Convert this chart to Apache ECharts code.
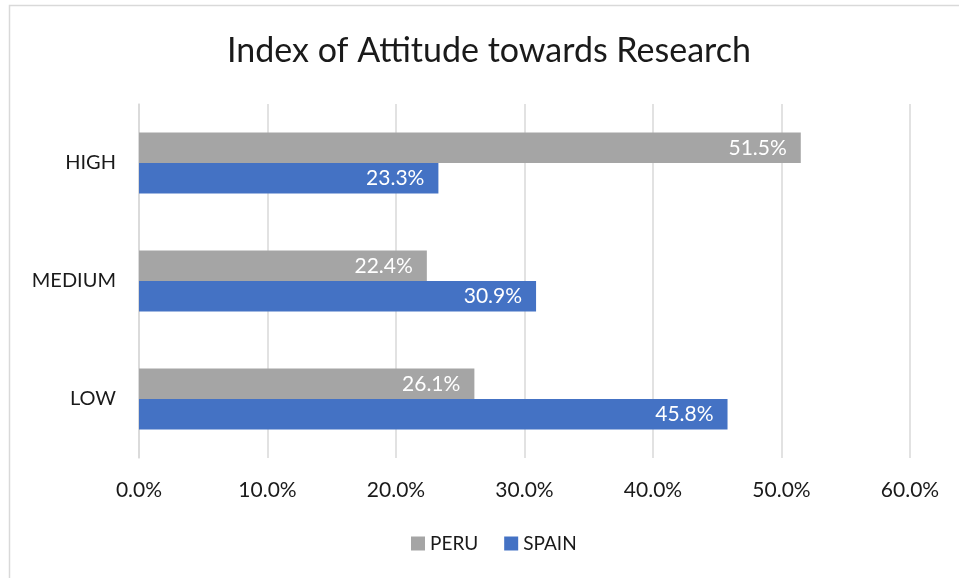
<!DOCTYPE html>
<html>
<head>
<meta charset="utf-8">
<script src="https://cdn.jsdelivr.net/npm/echarts@6/dist/echarts.min.js"></script>
<style>
  html, body { margin: 0; padding: 0; background: #fff; }
  #chart { width: 959px; height: 578px; }
</style>
</head>
<body>
<div id="chart"></div>
<script>
// categories bottom to top (ECharts draws first category at the bottom)
const categories = ['LOW', 'MEDIUM', 'HIGH'];
const peru = [26.1, 22.4, 51.5];
const spain = [45.8, 30.9, 23.3];
const xTicks = [0, 10, 20, 30, 40, 50, 60];

const chart = echarts.init(document.getElementById('chart'));

const labelStyle = {
  show: true,
  position: 'insideRight',
  distance: 14,
  color: '#fff',
  fontSize: 21,
  fontFamily: 'Lato',
  formatter: p => p.value.toFixed(1) + '%'
};

const option = {
  animation: false,
  textStyle: { fontFamily: 'Lato' },
  graphic: [{
    type: 'rect',
    shape: { x: 9.5, y: 5.5, width: 960, height: 580 },
    style: { fill: 'none', stroke: '#d9d9d9', lineWidth: 1.5 },
    silent: true
  }],
  title: {
    text: 'Index of Attitude towards Research',
    left: 222,
    top: 29,
    textStyle: { fontSize: 34, fontWeight: 'normal', color: '#1a1a1a', fontFamily: 'Lato' }
  },
  legend: {
    bottom: 20,
    left: 406,
    itemWidth: 14,
    itemHeight: 14,
    itemGap: 26,
    icon: 'rect',
    textStyle: { fontSize: 19, color: '#1a1a1a', fontFamily: 'Lato' },
    data: ['PERU', 'SPAIN']
  },
  grid: { left: 139, right: 49, top: 104, bottom: 120, containLabel: false },
  xAxis: {
    type: 'value',
    min: xTicks[0],
    max: xTicks[xTicks.length - 1],
    interval: 10,
    axisLine: { show: false },
    axisTick: { show: false },
    splitLine: { show: true, lineStyle: { color: '#d9d9d9', width: 1.5 } },
    axisLabel: {
      margin: 22,
      fontSize: 21,
      color: '#1a1a1a',
      fontFamily: 'Lato',
      formatter: v => v.toFixed(1) + '%'
    }
  },
  yAxis: {
    type: 'category',
    data: categories,
    axisLine: { show: true, lineStyle: { color: '#d9d9d9', width: 1.5 } },
    axisTick: { show: false },
    axisLabel: { margin: 23, fontSize: 20, color: '#1a1a1a', fontFamily: 'Lato' }
  },
  series: [
    {
      name: 'PERU',
      type: 'bar',
      data: peru,
      barWidth: 30.5,
      barGap: '0%',
      itemStyle: { color: '#a5a5a5' },
      label: labelStyle
    },
    {
      name: 'SPAIN',
      type: 'bar',
      data: spain,
      barWidth: 30.5,
      barGap: '0%',
      itemStyle: { color: '#4472c4' },
      label: labelStyle
    }
  ]
};

chart.setOption(option);
</script>
</body>
</html>
